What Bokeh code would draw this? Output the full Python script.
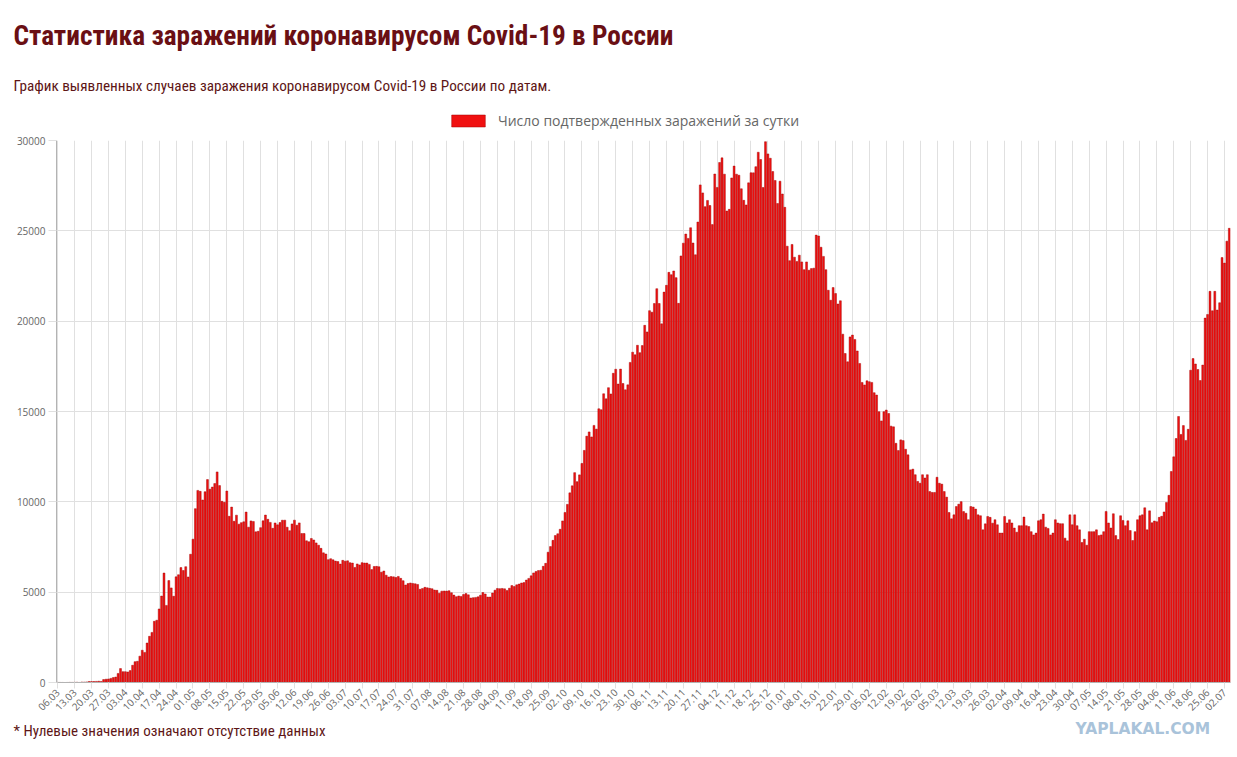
import numpy as np
from bokeh.plotting import figure
from bokeh.layouts import column
from bokeh.models import (ColumnDataSource, FixedTicker, Range1d, Label, Legend,
                          LegendItem, BasicTickFormatter)
from bokeh.embed import file_html
from bokeh.resources import INLINE

# ---- data: daily confirmed cases, 06.03.2020 .. 04.07.2021 ----
mar_2020 = [6, 4, 3, 0, 3, 8, 6, 11, 14, 4, 27, 24, 33, 52, 54, 53, 61, 71, 57, 163, 182, 196, 228, 270, 302, 501]
apr_2020 = [771, 601, 601, 582, 658, 954, 1154, 1175, 1459, 1786, 1667, 2186, 2558, 2774, 3388, 3448, 4070, 4785,
            6060, 4268, 5642, 5236, 4774, 5849, 5966, 6361, 6198, 6411, 5841, 7099]
may_2020 = [7933, 9623, 10633, 10581, 10102, 10559, 11231, 10699, 10817, 11012, 11656, 10899, 10028, 9974, 10598,
            9200, 9709, 8926, 9263, 8764, 8849, 8894, 9434, 8599, 8946, 8915, 8338, 8371, 8572, 8952, 9268]
jun_2020 = [9035, 8863, 8536, 8831, 8726, 8855, 8984, 8985, 8595, 8404, 8779, 8987, 8706, 8835, 8246, 8248, 7843,
            7790, 7972, 7889, 7728, 7600, 7425, 7176, 7113, 6800, 6852, 6791, 6719, 6693]
jul_2020 = [6556, 6760, 6718, 6736, 6632, 6611, 6368, 6562, 6509, 6635, 6615, 6611, 6537, 6248, 6422, 6428, 6406,
            6109, 6170, 5940, 5842, 5862, 5848, 5811, 5871, 5765, 5635, 5395, 5475, 5509, 5482]
aug_2020 = [5462, 5427, 5159, 5204, 5267, 5241, 5212, 5189, 5118, 5102, 4945, 5057, 5065, 5061, 5081, 4969, 4839,
            4748, 4790, 4767, 4870, 4921, 4852, 4676, 4696, 4711, 4741, 4829, 4980, 4897, 4729]
sep_2020 = [4729, 4952, 5110, 5205, 5195, 5205, 5185, 5099, 5218, 5363, 5310, 5406, 5449, 5509, 5529, 5670, 5762,
            5905, 6065, 6148, 6196, 6215, 6431, 6595, 7212, 7523, 7867, 8135, 8232, 8481]
oct_2020 = [8945, 9412, 9859, 10499, 10888, 11615, 11115, 11493, 12126, 12846, 13634, 13868, 13592, 14231, 14026,
            15150, 15099, 15982, 15700, 16319, 15971, 17115, 17340, 16521, 17347, 16550, 16202, 16474, 17717, 18283,
            18140]
nov_2020 = [18665, 18257, 18648, 19768, 19404, 20582, 20498, 20977, 21798, 20977, 19851, 21608, 21983, 22702, 22572,
            22778, 22410, 20985, 23610, 24318, 24822, 24581, 25173, 24326, 23675, 25487, 27543, 27100, 26338, 26683]
dec_2020 = [26402, 25345, 28145, 27403, 28782, 29039, 28137, 26097, 26190, 27927, 28585, 28137, 28080, 27328, 26689,
            26431, 27656, 28214, 28209, 28552, 29350, 28948, 27400, 29935, 29258, 29018, 28284, 27787, 26513, 27747,
            27039]
jan_2021 = [26301, 24150, 23351, 24246, 23541, 23309, 23652, 23280, 22851, 23280, 22820, 22910, 22934, 24763, 24715,
            24092, 23586, 22850, 21710, 21160, 21860, 21530, 20950, 21130, 19280, 18210, 17750, 19130, 19230, 18990,
            18350]
feb_2021 = [17660, 16610, 16470, 16700, 16650, 16610, 16040, 15910, 14990, 14480, 14990, 15080, 14890, 14190, 14150,
            13240, 12840, 13430, 13390, 12910, 12600, 11770, 11810, 11500, 11130, 11030, 11500, 11320]
mar_2021 = [11500, 10570, 10520, 10520, 11360, 11030, 10980, 10570, 10260, 9410, 9060, 9280, 9740, 9870, 10010, 9460,
            9370, 9010, 9740, 9710, 9600, 9280, 9230, 8450, 8780, 9190, 9140, 8820, 9010, 8730, 8270]
apr_2021 = [8270, 9190, 8830, 9010, 8830, 8550, 8320, 8680, 8680, 9160, 8680, 8630, 8350, 8170, 8270, 8950, 9010,
            9320, 8600, 8530, 8170, 8270, 9010, 8830, 8790, 8790, 7990, 7840, 9280, 8730]
may_2021 = [9280, 8680, 8450, 7750, 7930, 7600, 8350, 8350, 8350, 8450, 8130, 8170, 8350, 9470, 8830, 8550, 9340,
            8130, 7910, 9230, 8970, 8680, 8950, 8410, 7860, 8350, 9010, 9230, 9280, 9670, 8450]
jun_2021 = [9500, 8840, 8940, 8900, 9140, 9200, 9440, 9970, 10360, 11680, 12490, 13505, 14725, 13730, 14220, 13400,
            14015, 17285, 17930, 17630, 17325, 16715, 17570, 20170, 20370, 21650, 20575, 21650, 20615, 21020]
jul_2021 = [23520, 23215, 24430, 25140]

cases = (mar_2020 + apr_2020 + may_2020 + jun_2020 + jul_2020 + aug_2020 + sep_2020 + oct_2020 + nov_2020 +
         dec_2020 + jan_2021 + feb_2021 + mar_2021 + apr_2021 + may_2021 + jun_2021 + jul_2021)

tick_labels = ["06.03", "13.03", "20.03", "27.03", "03.04", "10.04", "17.04", "24.04", "01.05", "08.05", "15.05",
               "22.05", "29.05", "05.06", "12.06", "19.06", "26.06", "03.07", "10.07", "17.07", "24.07", "31.07",
               "07.08", "14.08", "21.08", "28.08", "04.09", "11.09", "18.09", "25.09", "02.10", "09.10", "16.10",
               "23.10", "30.10", "06.11", "13.11", "20.11", "27.11", "04.12", "11.12", "18.12", "25.12", "01.01",
               "08.01", "15.01", "22.01", "29.01", "05.02", "12.02", "19.02", "26.02", "05.03", "12.03", "19.03",
               "26.03", "02.04", "09.04", "16.04", "23.04", "30.04", "07.05", "14.05", "21.05", "28.05", "04.06",
               "11.06", "18.06", "25.06", "02.07"]
y_ticks = [0, 5000, 10000, 15000, 20000, 25000, 30000]

title_text = "Статистика заражений коронавирусом Covid-19 в России"
subtitle_text = "График выявленных случаев заражения коронавирусом Covid-19 в России по датам."
legend_text = "Число подтвержденных заражений за сутки"
note_text = "* Нулевые значения означают отсутствие данных"
watermark_text = "YAPLAKAL.COM"

NARROW = "'Liberation Sans Narrow', 'Roboto Condensed', 'Arial Narrow', sans-serif"
SANS = "Open Sans"
MAROON = "#6a0f14"
TEXT_MAROON = "#5e1616"
BAR_FILL = "#f01010"
BAR_LINE = "#a00000"
W = 1237
HEAD_H = 134
MAIN_H = 583
FOOT_H = 36

n = len(cases)
src = ColumnDataSource(dict(x=list(range(n)), y=cases))


def text_panel(h):
    f = figure(width=W, height=h, output_backend="svg", toolbar_location=None,
               x_range=Range1d(0, W), y_range=Range1d(0, h), x_axis_type=None, y_axis_type=None,
               min_border=0, frame_align=False)
    f.outline_line_color = None
    f.grid.visible = False
    f.background_fill_color = "white"
    f.border_fill_color = "white"
    return f


def screen_label(x, y, text, **kw):
    return Label(x=x, y=y, x_units="screen", y_units="screen", text=text,
                 text_baseline="alphabetic", **kw)


# ---- header: title, subtitle, legend ----
head = text_panel(HEAD_H)
head.add_layout(screen_label(13, 99, title_text, text_font=NARROW, text_font_size="27.3px",
                             text_font_style="bold", text_color=MAROON))
head.add_layout(screen_label(13, 49, subtitle_text, text_font=NARROW, text_font_size="15.2px",
                             text_color=TEXT_MAROON))
swatch = head.vbar(x="x", top="y", width=0.8, source=src, fill_color=BAR_FILL, line_color=BAR_LINE,
                   line_width=0.5, visible=False)
legend = Legend(items=[LegendItem(label=legend_text, renderers=[swatch])], location=(447, 4),
                orientation="horizontal", padding=0, margin=0, border_line_alpha=0,
                background_fill_alpha=0, glyph_width=42, glyph_height=15, label_height=15,
                label_standoff=9, label_text_font=SANS, label_text_font_size="14px",
                label_text_color="#666666", label_text_baseline="middle")
head.add_layout(legend, "center")

# ---- main chart ----
p = figure(width=W, height=MAIN_H, output_backend="svg", toolbar_location=None,
           x_range=Range1d(-0.5, n - 0.5), y_range=Range1d(0, 30000),
           min_border_left=56, min_border_right=7, min_border_top=6, min_border_bottom=34,
           frame_align=False)
p.outline_line_color = None
p.background_fill_color = "white"
p.border_fill_color = "white"

p.vbar(x="x", top="y", width=0.78, source=src, fill_color=BAR_FILL, line_color=BAR_LINE, line_width=0.45)

tick_pos = [i * 7 for i in range(len(tick_labels))]
p.xaxis.ticker = FixedTicker(ticks=tick_pos)
p.xaxis.major_label_overrides = {t: lab for t, lab in zip(tick_pos, tick_labels)}
p.xaxis.major_label_orientation = np.pi / 4
p.xgrid.ticker = FixedTicker(ticks=tick_pos)
p.yaxis.ticker = FixedTicker(ticks=y_ticks)
p.yaxis.formatter = BasicTickFormatter(use_scientific=False)

for ax in (p.xaxis[0], p.yaxis[0]):
    ax.axis_line_color = "#b3b3b3"
    ax.major_tick_line_color = "#e0e0e0"
    ax.major_tick_out = 8
    ax.major_tick_in = 0
    ax.minor_tick_line_color = None
    ax.major_label_text_font = SANS
    ax.major_label_text_font_size = "10px"
    ax.major_label_text_color = "#666666"
    ax.major_label_standoff = 3
p.xaxis.major_tick_out = 6
p.xaxis.major_label_standoff = 2

p.xgrid.grid_line_color = "#e0e0e0"
p.ygrid.grid_line_color = "#e0e0e0"

# ---- footer: note and watermark ----
foot = text_panel(FOOT_H)
foot.add_layout(screen_label(13, 23, note_text, text_font=NARROW, text_font_size="15px",
                             text_color=TEXT_MAROON))
foot.add_layout(screen_label(1075, 25, watermark_text, text_font="DejaVu Sans",
                             text_font_size="15.5px", text_font_style="bold", text_color="#a9c3da"))

layout = column(head, p, foot, spacing=0)
open("out.html", "w").write(file_html(layout, INLINE))
